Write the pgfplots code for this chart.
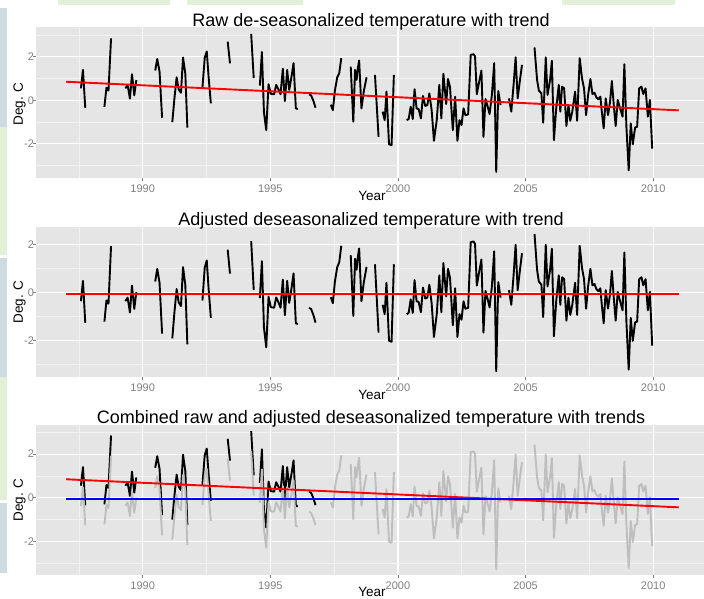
\documentclass[border=0pt]{standalone}
\usepackage{pgfplots}
\pgfplotsset{compat=1.18}
\usepackage{pgfplotstable}
\usepackage{fontspec}
\setmainfont{Liberation Sans}

\definecolor{panelbg}{RGB}{229,229,229}
\definecolor{minorgrid}{RGB}{242,242,242}
\definecolor{ticklab}{RGB}{127,127,127}
\definecolor{adjgray}{RGB}{190,190,190}
\definecolor{ggred}{RGB}{255,0,0}
\definecolor{ggblue}{RGB}{0,0,255}
\definecolor{decoblue}{RGB}{207,219,226}
\definecolor{decogreen}{RGB}{226,240,218}

% x = decimal year, raw = raw de-seasonalized, adj = adjusted (nan = gap)
\pgfplotstableread{
x raw adj
1987.58 0.55 -0.37
1987.66 1.40 0.48
1987.75 -0.35 -1.27
nan nan nan
1988.50 -0.30 -1.22
1988.58 0.58 -0.34
1988.66 0.45 -0.47
1988.76 2.85 1.93
nan nan nan
1989.32 0.55 -0.37
1989.41 0.70 -0.22
1989.50 0.08 -0.84
1989.58 1.20 0.28
1989.67 0.23 -0.69
1989.75 0.93 0.01
nan nan nan
1990.49 1.37 0.45
1990.57 1.90 0.98
1990.66 1.32 0.40
1990.76 -0.80 -1.72
nan nan nan
1991.16 -1.00 -1.92
1991.24 0.05 -0.87
1991.33 1.06 0.14
1991.41 0.50 -0.42
1991.50 0.35 -0.57
1991.58 1.97 1.05
1991.67 1.22 0.30
1991.75 -1.25 -2.17
nan nan nan
1992.34 0.58 -0.34
1992.43 1.95 1.03
1992.51 2.25 1.33
1992.58 1.10 0.18
1992.67 -0.14 -1.06
nan nan nan
1993.33 2.70 1.78
1993.42 1.70 0.78
nan nan nan
1994.25 3.05 2.13
1994.35 1.02 0.10
nan nan nan
1994.59 0.68 -0.24
1994.67 2.22 1.30
1994.75 -0.55 -1.47
1994.84 -1.37 -2.29
1994.93 0.74 -0.18
1995.02 0.30 -0.62
1995.15 0.28 -0.64
1995.23 0.71 -0.21
1995.32 0.50 -0.42
1995.40 0.28 -0.64
1995.49 1.45 0.53
1995.57 -0.03 -0.95
1995.66 1.40 0.48
1995.74 0.48 -0.44
1995.83 1.09 0.17
1995.91 1.71 0.79
1996.00 -0.37 -1.29
1996.08 -0.40 -1.32
nan nan nan
1996.52 0.28 -0.64
1996.60 0.22 -0.70
1996.69 -0.03 -0.95
1996.77 -0.34 -1.26
nan nan nan
1997.37 -0.20 -0.20
1997.45 -0.45 -0.45
1997.53 0.45 0.45
1997.62 1.05 1.05
1997.70 1.25 1.25
1997.78 1.94 1.94
nan nan nan
1998.15 1.55 1.55
1998.25 -0.98 -0.98
1998.32 1.40 1.40
1998.38 0.94 0.94
1998.43 1.48 1.48
1998.48 1.83 1.83
1998.57 -0.37 -0.37
1998.66 0.40 0.40
1998.77 1.06 1.06
nan nan nan
1999.10 1.17 1.17
1999.24 -1.68 -1.68
nan nan nan
1999.40 -0.52 -0.52
1999.48 -0.91 -0.91
1999.55 0.40 0.40
1999.65 -2.02 -2.02
1999.75 -2.06 -2.06
1999.84 1.17 1.17
nan nan nan
2000.34 -0.91 -0.91
2000.42 -0.86 -0.86
2000.50 -0.29 -0.29
2000.58 -0.86 -0.86
2000.65 0.51 0.51
2000.73 -0.37 -0.37
2000.81 -0.40 -0.40
2000.90 -0.83 -0.83
2000.98 0.20 0.20
2001.07 -0.26 -0.26
2001.15 -0.22 -0.22
2001.23 0.32 0.32
2001.32 -0.45 -0.45
2001.41 -1.86 -1.86
2001.52 -0.91 -0.91
2001.62 0.71 0.71
2001.70 -0.83 -0.83
2001.78 1.22 1.22
2001.89 -0.17 -0.17
2001.96 0.98 0.98
2002.04 0.60 0.60
2002.15 -1.37 -1.37
2002.24 0.17 0.17
2002.33 -1.86 -1.86
2002.41 -0.91 -0.91
2002.49 -1.14 -1.14
2002.57 -0.37 -0.37
2002.64 -0.68 -0.68
2002.75 -0.65 -0.65
2002.85 2.09 2.09
2002.96 2.12 2.12
2003.02 2.02 2.02
2003.09 0.28 0.28
2003.17 0.78 0.78
2003.27 1.37 1.37
2003.35 -1.68 -1.68
2003.43 0.06 0.06
2003.51 -0.26 -0.26
2003.59 -0.63 -0.63
2003.68 0.25 0.25
2003.77 1.71 1.71
2003.85 -3.29 -3.29
2003.93 0.43 0.43
2004.02 -0.22 -0.22
nan nan nan
2004.35 0.09 0.09
2004.44 -0.52 -0.52
2004.53 0.71 0.71
2004.61 1.98 1.98
2004.69 0.09 0.09
2004.78 0.94 0.94
2004.86 1.63 1.63
nan nan nan
2005.35 2.43 2.43
2005.45 0.94 0.94
2005.52 0.45 0.45
2005.62 0.32 0.32
2005.69 -1.03 -1.03
2005.79 1.98 1.98
2005.86 0.25 0.25
2005.96 0.94 0.94
2006.03 1.82 1.82
2006.11 -1.83 -1.83
2006.20 -0.37 -0.37
2006.30 0.71 0.71
2006.36 -0.52 -0.52
2006.43 0.63 0.63
2006.51 0.55 0.55
2006.60 -1.18 -1.18
2006.68 -0.22 -0.22
2006.75 -0.94 -0.94
2006.83 -0.52 -0.52
2006.94 0.40 0.40
2007.02 -0.94 -0.94
2007.12 1.94 1.94
2007.21 1.02 1.02
2007.29 0.55 0.55
2007.37 -0.68 -0.68
2007.45 0.25 0.25
2007.54 0.98 0.98
2007.62 0.29 0.29
2007.70 0.35 0.35
2007.77 0.14 0.14
2007.85 0.05 0.05
2007.93 0.17 0.17
2007.98 -0.45 -0.45
2008.06 -1.29 -1.29
2008.14 0.09 0.09
2008.23 -0.68 -0.68
2008.31 -0.06 -0.06
2008.38 0.89 0.89
2008.46 -0.29 -0.29
2008.53 -1.18 -1.18
2008.61 0.02 0.02
2008.69 -0.32 -0.32
2008.80 -0.75 -0.75
2008.87 1.66 1.66
2008.95 -1.22 -1.22
2009.04 -3.22 -3.22
2009.12 -1.06 -1.06
2009.20 -2.02 -2.02
2009.29 -1.25 -1.25
2009.37 -1.22 -1.22
2009.45 0.55 0.55
2009.54 0.63 0.63
2009.61 0.29 0.29
2009.70 0.55 0.55
2009.79 -0.75 -0.75
2009.87 0.02 0.02
2009.96 -2.22 -2.22
}\tdata

\pgfplotsset{
 panel/.style={
  scale only axis,width=668pt,
  xmin=1985.82,xmax=2011.99,
  axis background/.style={fill=panelbg},
  axis line style={draw=none},
  tick align=outside,tick pos=left,
  major tick length=3pt,minor tick length=0pt,
  tick style={ticklab,line width=0.7pt},
  xtick={1990,1995,2000,2005,2010},
  xticklabels={1990,1995,2000,2005,2010},
  minor xtick={1987.5,1992.5,1997.5,2002.5,2007.5},
  ytick={-2,0,2},yticklabels={-2,0,2},
  minor ytick={-3,-1,1,3},
  grid=both,
  major grid style={white,line width=1.1pt},
  minor grid style={minorgrid,line width=0.6pt},
  ticklabel style={font=\fontsize{11}{13}\selectfont,text=ticklab},
  yticklabel style={anchor=east,xshift=4.5pt},
  unbounded coords=jump,
 },
 tsline/.style={line width=1.9pt,line join=round},
}

\newcommand{\titlefont}{\fontsize{18}{21}\selectfont}
\newcommand{\labfont}{\fontsize{13.5}{16}\selectfont}

\begin{document}
\begin{tikzpicture}
\path[use as bounding box] (0,0) rectangle (704pt,-598pt);
% background scraps at the edges of the screenshot
\fill[decogreen] (58pt,0) rectangle (170pt,-5pt);
\fill[decogreen] (187pt,0) rectangle (303pt,-5pt);
\fill[decogreen] (562pt,0) rectangle (675pt,-5pt);
\fill[decoblue] (0,-8pt) rectangle (7pt,-127pt);
\fill[decogreen] (0,-127pt) rectangle (7pt,-255pt);
\fill[decoblue] (0,-258pt) rectangle (7pt,-377pt);
\fill[decogreen] (0,-377pt) rectangle (7pt,-500pt);
\fill[decoblue] (0,-503pt) rectangle (7pt,-573pt);

% panel 1
\begin{axis}[panel,at={(36pt,-178pt)},anchor=south west,height=151pt,ymin=-3.57,ymax=3.37]
\addplot[tsline,draw=black] table[x=x,y=raw]{\tdata};
\addplot[tsline,draw=ggred] coordinates {(1987,0.855) (2011,-0.46)};
\end{axis}

% panel 2
\begin{axis}[panel,at={(36pt,-377.3pt)},anchor=south west,height=150.6pt,ymin=-3.54,ymax=2.735]
\addplot[tsline,draw=black] table[x=x,y=adj]{\tdata};
\addplot[tsline,draw=ggred] coordinates {(1987,-0.085) (2011,-0.085)};
\end{axis}

% panel 3
\begin{axis}[panel,at={(36pt,-575pt)},anchor=south west,height=150pt,ymin=-3.54,ymax=3.33]
\addplot[tsline,draw=black,restrict x to domain=1985:1997.1] table[x=x,y=raw]{\tdata};
\addplot[tsline,draw=adjgray] table[x=x,y=adj]{\tdata};
\addplot[tsline,draw=ggred] coordinates {(1987,0.845) (2011,-0.44)};
\addplot[tsline,draw=ggblue] coordinates {(1987,-0.075) (2011,-0.075)};
\end{axis}

\node[anchor=base,font=\titlefont] at (371pt,-26pt) {Raw de-seasonalized temperature with trend};
\node[anchor=base,font=\titlefont] at (371pt,-225pt) {Adjusted deseasonalized temperature with trend};
\node[anchor=base,font=\titlefont] at (371pt,-423pt) {Combined raw and adjusted deseasonalized temperature with trends};
\node[anchor=base,font=\labfont] at (372pt,-200.5pt) {Year};
\node[anchor=base,font=\labfont] at (372pt,-399.5pt) {Year};
\node[anchor=base,font=\labfont] at (372pt,-596pt) {Year};
\node[anchor=base,rotate=90,font=\labfont] at (23pt,-104pt) {Deg. C};
\node[anchor=base,rotate=90,font=\labfont] at (23pt,-302pt) {Deg. C};
\node[anchor=base,rotate=90,font=\labfont] at (23pt,-500pt) {Deg. C};
\end{tikzpicture}
\end{document}
